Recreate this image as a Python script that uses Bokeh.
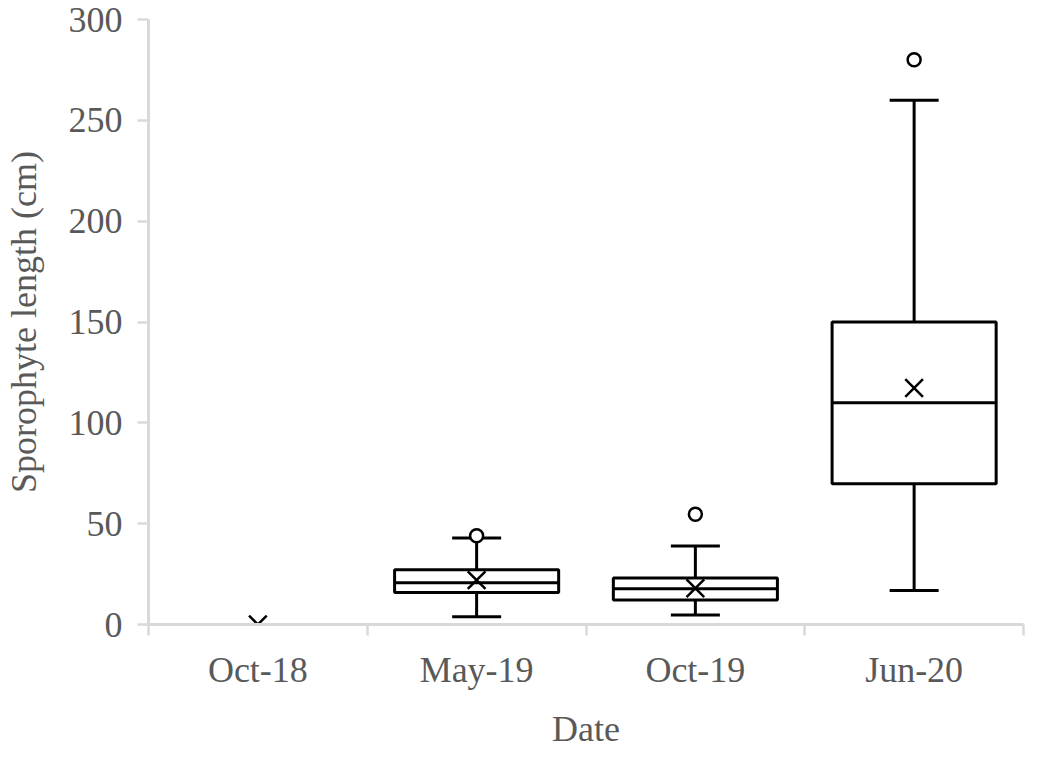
from bokeh.plotting import figure
from bokeh.models import FixedTicker, Range1d, ColumnDataSource
from bokeh.embed import file_html
from bokeh.resources import INLINE

categories = ["Oct-18", "May-19", "Oct-19", "Jun-20"]
q1 = [0, 15.9, 12.1, 69.8]
median = [0, 20.7, 17.7, 110.0]
q3 = [0, 27.2, 23.1, 150.0]
whisker_low = [0, 3.9, 4.7, 16.9]
whisker_high = [0, 42.9, 38.9, 260.0]
mean = [0, 22.0, 18.0, 117.3]
outlier_cats = ["May-19", "Oct-19", "Jun-20"]
outlier_vals = [44.0, 54.7, 280.0]
y_ticks = [0, 50, 100, 150, 200, 250, 300]

FONT = "Liberation Serif"
TXT = "#595959"
AX = "#d9d9d9"
BOX_HALF = 0.375
CAP_HALF = 0.112

xc = [i + 0.5 for i in range(len(categories))]
# zero-height box (all values 0) merges into the axis line
colors = [AX if (whisker_high[i] - whisker_low[i]) == 0 else "black"
          for i in range(len(categories))]

src = ColumnDataSource(dict(
    x=xc,
    left=[x - BOX_HALF for x in xc], right=[x + BOX_HALF for x in xc],
    cl=[x - CAP_HALF for x in xc], cr=[x + CAP_HALF for x in xc],
    q1=q1, q3=q3, med=median, lo=whisker_low, hi=whisker_high, mean=mean,
    color=colors,
))

p = figure(width=1025, height=751, output_backend="svg", toolbar_location=None,
           x_range=Range1d(0, len(categories)), y_range=Range1d(0, 300),
           min_border_top=19, min_border_right=2, min_border_left=0, min_border_bottom=0)
p.outline_line_color = None
p.xgrid.visible = False
p.ygrid.visible = False
p.background_fill_color = "white"
p.border_fill_color = "white"

# whiskers
p.segment(x0="x", y0="q3", x1="x", y1="hi", source=src, line_color="color", line_width=3)
p.segment(x0="x", y0="q1", x1="x", y1="lo", source=src, line_color="color", line_width=3)
p.segment(x0="cl", y0="hi", x1="cr", y1="hi", source=src, line_color="color", line_width=3)
p.segment(x0="cl", y0="lo", x1="cr", y1="lo", source=src, line_color="color", line_width=3)
# boxes
p.quad(left="left", right="right", bottom="q1", top="q3", source=src,
       fill_color="white", line_color="color", line_width=3)
p.segment(x0="left", y0="med", x1="right", y1="med", source=src, line_color="color", line_width=3)
# means
p.scatter(x="x", y="mean", source=src, marker="x", size=25, line_color="black", line_width=2.5)
# outliers
ox = [categories.index(c) + 0.5 for c in outlier_cats]
p.scatter(x=ox, y=outlier_vals, marker="circle", size=13, fill_color="white",
          line_color="black", line_width=2.5)

# x axis
xa = p.xaxis[0]
xa.ticker = FixedTicker(ticks=xc, minor_ticks=list(range(len(categories) + 1)))
xa.major_label_overrides = {x: c for x, c in zip(xc, categories)}
xa.major_tick_out = 0
xa.major_tick_in = 0
xa.minor_tick_out = 11
xa.minor_tick_in = 0
xa.minor_tick_line_color = AX
xa.minor_tick_line_width = 2.5
xa.axis_line_color = AX
xa.axis_line_width = 3
xa.major_label_text_font = FONT
xa.major_label_text_font_size = "36px"
xa.major_label_text_color = TXT
xa.major_label_standoff = 14
xa.axis_label = "Date"
xa.axis_label_text_font = FONT
xa.axis_label_text_font_size = "36px"
xa.axis_label_text_font_style = "normal"
xa.axis_label_text_color = TXT
xa.axis_label_standoff = 16

# y axis
ya = p.yaxis[0]
ya.ticker = FixedTicker(ticks=y_ticks, minor_ticks=[])
ya.major_tick_out = 11
ya.major_tick_in = 0
ya.major_tick_line_color = AX
ya.major_tick_line_width = 2.5
ya.axis_line_color = AX
ya.axis_line_width = 3
ya.major_label_text_font = FONT
ya.major_label_text_font_size = "36px"
ya.major_label_text_color = TXT
ya.major_label_standoff = 15
ya.axis_label = "Sporophyte length (cm)"
ya.axis_label_text_font = FONT
ya.axis_label_text_font_size = "36px"
ya.axis_label_text_font_style = "normal"
ya.axis_label_text_color = TXT
ya.axis_label_standoff = 22

open("out.html", "w").write(file_html(p, INLINE))
